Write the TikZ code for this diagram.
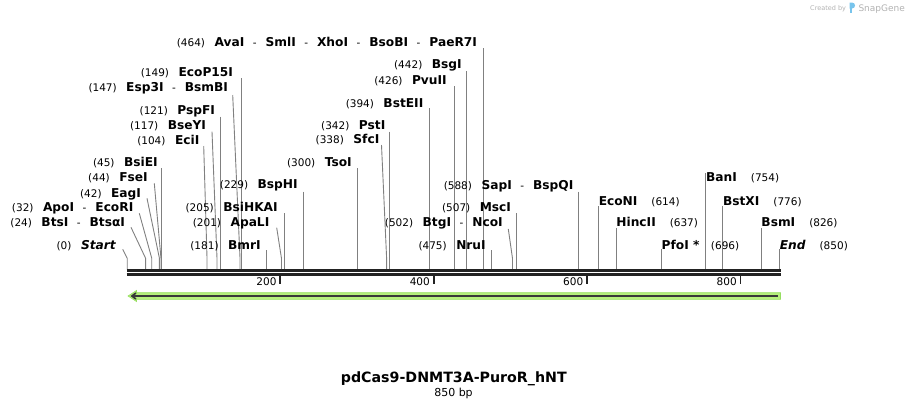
\documentclass[tikz,border=0pt]{standalone}
\usepackage{fontspec}
\setmainfont{DejaVu Sans}
\usetikzlibrary{arrows.meta}
\definecolor{conncol}{RGB}{128,128,128}
\definecolor{backcol}{RGB}{34,34,34}
\definecolor{featfill}{RGB}{182,240,124}
\definecolor{featedge}{RGB}{150,222,96}
\definecolor{wmcol}{RGB}{178,178,178}
\definecolor{logocol}{RGB}{120,196,236}
\newcommand\bpnum[1]{{\fontsize{10.5}{12}\selectfont(#1)}}
\newcommand\enz[1]{{\fontsize{12.2}{14}\selectfont\bfseries #1}}
\newcommand\enzit[1]{{\fontsize{12.2}{14}\selectfont\bfseries\itshape #1}}
\newcommand\esep{\hspace{8.5pt}{\fontsize{10.5}{12}\selectfont-}\hspace{9pt}}
\newcommand\lgap{\hspace{9.5pt}}
\newcommand\rgap{\hspace{14pt}}
\tikzset{
  lab/.style={inner sep=0pt, outer sep=0pt, text=black},
  conn/.style={draw=conncol, line width=0.9pt},
  backline/.style={draw=backcol, line width=2.4pt},
  tickmark/.style={draw=backcol, line width=1.8pt},
  ticklab/.style={inner sep=0pt, outer sep=0pt, font=\fontsize{10.5}{12}\selectfont, anchor=east},
}
% left label: name, east x, centre y, content
\newcommand\llab[4]{\node[lab, anchor=base east] (#1) at (#2,#3+4.4) {#4};}
% right label: name, site, centre y, content
\newcommand\rlab[4]{\node[lab, anchor=base west] (#1) at ({127.5+0.7675*#2},#3+4.4) {#4};}
% vertical cut line: name, site, top y
\newcommand\vcut[3]{%
  \coordinate (#1-a) at ({127.2+0.7675*#2},#3);
  \coordinate (#1-b) at ({127.2+0.7675*#2},269);
  \draw[conn] (#1-a) -- (#1-b);}
% slanted cut line: name, start x, start y, site
\newcommand\scut[4]{%
  \coordinate (#1-a) at (#2,#3);
  \coordinate (#1-k) at ({127.2+0.7675*#4},258.3);
  \coordinate (#1-b) at ({127.2+0.7675*#4},269);
  \draw[conn] (#1-a) -- (#1-k) -- (#1-b);}
\begin{document}
\begin{tikzpicture}[x=1pt,y=-1pt]
\useasboundingbox (0,0) rectangle (908,408);

% watermark
\node[lab, anchor=base east, text=wmcol, font=\fontsize{6.5}{8}\selectfont] (wm1) at (846,10.5) {Created by};
\fill[logocol] (849.5,2.5) rectangle (852,13) ;
\fill[logocol] (849.5,2.5) -- (852,2.5) .. controls (856,2.5) and (856,8.5) .. (852,8.5) -- (849.5,8.5) -- cycle;
\node[lab, anchor=base west, text=wmcol, font=\fontsize{9}{10}\selectfont] (wm2) at (858.5,11) {SnapGene};

% cut lines
\vcut{c464}{464}{48}
\vcut{c149}{149}{78}
\scut{c147}{232.7}{95}{147}
\vcut{c121}{121}{116.7}
\scut{c117}{212}{131.7}{117}
\scut{c104}{203.7}{146}{104}
\vcut{c45}{45}{168.3}
\scut{c44}{154.3}{183.3}{44}
\scut{c42}{147}{198.3}{42}
\scut{c32}{139.3}{213.3}{32}
\scut{c24}{131}{227.3}{24}
\scut{c0}{122.7}{249.3}{0}
\vcut{c229}{229}{191.7}
\vcut{c205}{205}{213.3}
\scut{c201}{276.7}{227.7}{201}
\vcut{c181}{181}{250}
\vcut{c300}{300}{168}
\scut{c338}{381.5}{145}{338}
\vcut{c342}{342}{131.7}
\vcut{c394}{394}{108.3}
\vcut{c426}{426}{86}
\vcut{c442}{442}{71}
\vcut{c588}{588}{191.7}
\vcut{c507}{507}{213.3}
\scut{c502}{508.3}{229}{502}
\vcut{c475}{475}{250}
\vcut{c754}{754}{173}
\vcut{c614}{614}{206}
\vcut{c637}{637}{228.3}
\vcut{c696}{696}{249.3}
\vcut{c776}{776}{206}
\vcut{c826}{826}{228.3}
\vcut{c850}{850}{249.3}

% labels, left side
\llab{l464}{477}{42.5}{\bpnum{464}\lgap\enz{AvaI}\esep\enz{SmlI}\esep\enz{XhoI}\esep\enz{BsoBI}\esep\enz{PaeR7I}}
\llab{l149}{233}{71.7}{\bpnum{149}\lgap\enz{EcoP15I}}
\llab{l147}{228}{87.3}{\bpnum{147}\lgap\enz{Esp3I}\esep\enz{BsmBI}}
\llab{l121}{215}{110}{\bpnum{121}\lgap\enz{PspFI}}
\llab{l117}{206}{125}{\bpnum{117}\lgap\enz{BseYI}}
\llab{l104}{199.3}{140}{\bpnum{104}\lgap\enz{EciI}}
\llab{l45}{157.7}{161.7}{\bpnum{45}\lgap\enz{BsiEI}}
\llab{l44}{147.7}{177.3}{\bpnum{44}\lgap\enz{FseI}}
\llab{l42}{141}{192.7}{\bpnum{42}\lgap\enz{EagI}}
\llab{l32}{133.3}{207.3}{\bpnum{32}\lgap\enz{ApoI}\esep\enz{EcoRI}}
\llab{l24}{125}{221.7}{\bpnum{24}\lgap\enz{BtsI}\esep\enz{BtsαI}}
\llab{l0}{115.7}{245}{\bpnum{0}\lgap\enzit{Start}}
\llab{l229}{297.7}{184.3}{\bpnum{229}\lgap\enz{BspHI}}
\llab{l205}{277.7}{207.3}{\bpnum{205}\lgap\enz{BsiHKAI}}
\llab{l201}{269.3}{221.7}{\bpnum{201}\lgap\enz{ApaLI}}
\llab{l181}{260.7}{245}{\bpnum{181}\lgap\enz{BmrI}}
\llab{l300}{351.7}{162}{\bpnum{300}\lgap\enz{TsoI}}
\llab{l338}{379.3}{139.5}{\bpnum{338}\lgap\enz{SfcI}}
\llab{l342}{385.3}{125}{\bpnum{342}\lgap\enz{PstI}}
\llab{l394}{423.3}{102.7}{\bpnum{394}\lgap\enz{BstEII}}
\llab{l426}{446.7}{80}{\bpnum{426}\lgap\enz{PvuII}}
\llab{l442}{461.7}{64.3}{\bpnum{442}\lgap\enz{BsgI}}
\llab{l588}{573.3}{185}{\bpnum{588}\lgap\enz{SapI}\esep\enz{BspQI}}
\llab{l507}{511}{206.7}{\bpnum{507}\lgap\enz{MscI}}
\llab{l502}{502.7}{221.7}{\bpnum{502}\lgap\enz{BtgI}\esep\enz{NcoI}}
\llab{l475}{485.7}{245}{\bpnum{475}\lgap\enz{NruI}}

% labels, right side
\rlab{r754}{754}{177.3}{\enz{BanI}\rgap\bpnum{754}}
\rlab{r614}{614}{200.7}{\enz{EcoNI}\rgap\bpnum{614}}
\rlab{r637}{637}{221.7}{\enz{HincII}\rgap\bpnum{637}}
\rlab{r696}{696}{245}{\enz{PfoI *}\hspace{11.5pt}\bpnum{696}}
\rlab{r776}{776}{200.7}{\enz{BstXI}\rgap\bpnum{776}}
\rlab{r826}{826}{221.7}{\enz{BsmI}\rgap\bpnum{826}}
\rlab{r850}{850}{245}{\enzit{End}\rgap\bpnum{850}}

% backbone
\coordinate (bbL1) at (126.7,270.3);
\coordinate (bbR1) at (781,270.3);
\coordinate (bbL2) at (126.7,274.4);
\coordinate (bbR2) at (781,274.4);
\draw[backline] (bbL1) -- (bbR1);
\draw[backline] (bbL2) -- (bbR2);

% ticks
\foreach \tx/\tl in {280.3/200, 433.6/400, 587/600, 740.5/800}{
  \draw[tickmark] (\tx,276) -- (\tx,283.5);
  \node[ticklab] at (\tx-3.8,282) {\tl};
}

% feature arrow
\coordinate (fR) at (780.5,296);
\coordinate (fL) at (128,296);
\filldraw[fill=featfill, draw=featedge, line width=0.6pt]
  (780.5,292.7) -- (136.5,292.7) -- (136.5,290.5) -- (128,296) -- (136.5,301.5) -- (136.5,299.3) -- (780.5,299.3) -- cycle;
\draw[draw=backcol!90, line width=1.7pt, -{Straight Barb[length=4pt,width=6pt]}] (777.5,296) -- (130.5,296);

% title
\node[lab, anchor=base, font=\fontsize{14.2}{16}\selectfont\bfseries] (title) at (453.8,382.2) {pdCas9-DNMT3A-PuroR\_hNT};
\node[lab, anchor=base, font=\fontsize{11}{13}\selectfont] (size) at (453.5,396.2) {850 bp};
\end{tikzpicture}
\end{document}
